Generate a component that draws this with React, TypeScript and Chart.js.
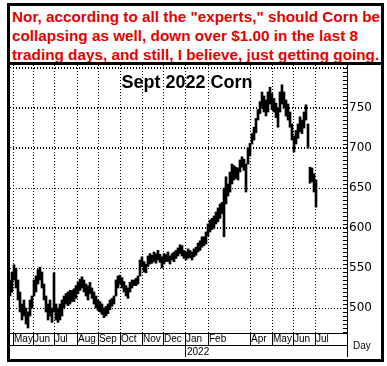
import React, { useEffect, useRef } from 'react';
import { Chart, registerables } from 'chart.js';

Chart.register(...registerables);

// ---- Data (cents per bushel), one sample every 2 trading days ----
const dayStep = 2;
const lows = [
  515, 520, 535, 525, 510, 495, 485, 490, 480, 475, 490, 500, 515, 520, 530, 535, 525, 510, 495, 485,
  490, 482, 495, 485, 482, 485, 490, 500, 505, 503, 505, 508, 508, 512, 518, 522, 525, 520, 515, 510,
  518, 512, 505, 500, 497, 495, 492, 488, 490, 493, 498, 502, 505, 515, 525, 530, 525, 520, 515, 512,
  520, 525, 528, 528, 530, 540, 552, 545, 544, 552, 555, 556, 558, 556, 560, 557, 550, 555, 558, 558,
  555, 560, 558, 562, 565, 568, 565, 562, 560, 562, 563, 560, 564, 566, 570, 572, 576, 578, 580, 590,
  595, 598, 600, 605, 608, 612, 618, 589, 630, 640, 645, 655, 660, 662, 660, 670, 676, 672, 645, 680,
  690, 705, 710, 719, 735, 743, 750, 745, 740, 745, 755, 748, 745, 738, 726, 745, 755, 750, 740, 735,
  726, 710, 695, 705, 712, 720, 718, 725, 735, 700, 656, 658, 645, 626,
];
const highs = [
  535, 545, 554, 550, 535, 520, 505, 510, 500, 495, 510, 515, 535, 540, 548, 551, 545, 530, 515, 505,
  510, 500, 544, 505, 500, 505, 510, 515, 518, 520, 522, 522, 524, 528, 532, 536, 539, 535, 530, 528,
  532, 525, 520, 515, 510, 508, 505, 500, 502, 505, 510, 512, 515, 535, 540, 541, 538, 533, 528, 525,
  532, 535, 535, 537, 540, 560, 564, 558, 555, 565, 568, 566, 570, 568, 572, 567, 564, 568, 567, 570,
  565, 568, 570, 572, 575, 579, 578, 572, 570, 574, 572, 570, 574, 576, 581, 584, 589, 589, 595, 605,
  610, 612, 615, 620, 625, 630, 632, 650, 664, 655, 670, 680, 678, 676, 675, 685, 689, 686, 680, 700,
  706, 718, 726, 737, 748, 758, 770, 765, 760, 770, 776, 768, 762, 756, 750, 770, 779, 770, 760, 755,
  745, 730, 715, 722, 730, 739, 735, 745, 754, 730, 676, 675, 668, 660,
];

// month boundaries (trading-day index) and their labels
const monthStartDays = [3, 23, 44, 67, 88, 110, 132, 153, 175, 198, 240, 262, 283, 305];
const monthLabels = ['May', 'Jun', 'Jul', 'Aug', 'Sep', 'Oct', 'Nov', 'Dec', 'Jan', 'Feb', 'Apr', 'May', 'Jun', 'Jul'];
const yearStartDay = 175;
const yearLabel = '2022';
const totalDays = 337;

const priceMin = 468.75;
const priceMax = 803.75;
const priceLabels = [500, 550, 600, 650, 700, 750];
const gridPrices = [500, 550, 600, 650, 700, 750, 800];
const minorTickStep = 5;

const headline = [
  'Nor, according to all the "experts," should Corn be',
  'collapsing as well, down over $1.00 in the last 8',
  'trading days, and still, I believe, just getting going.',
];
const chartTitle = 'Sept 2022 Corn';
const axisUnit = 'Day';

export default function App() {
  const ref = useRef<HTMLCanvasElement>(null);

  useEffect(() => {
    document.body.style.margin = '0';
    const canvas = ref.current;
    if (!canvas) return;

    const points = lows.map((lo, i) => ({ x: i * dayStep, y: [lo, highs[i]] }));

    const yTicks: number[] = [];
    for (let v = 470; v <= 800; v += minorTickStep) yTicks.push(v);

    const gridLayer = {
      id: 'gridLayer',
      beforeDatasetsDraw(chart: any) {
        const { ctx, chartArea, scales } = chart;
        const xs = scales.x;
        const ys = scales.y;
        const left = Math.round(chartArea.left);
        const right = Math.round(chartArea.right);
        const top = Math.round(chartArea.top);
        const bottom = Math.round(chartArea.bottom);
        ctx.save();
        ctx.fillStyle = '#000';
        gridPrices.forEach((p) => {
          const y = Math.round(ys.getPixelForValue(p));
          if (y < top || y > bottom) return;
          for (let x = left + 3; x < right - 1; x += 3) ctx.fillRect(x, y, 1, 1);
        });
        monthStartDays.forEach((d) => {
          const x = Math.round(xs.getPixelForValue(d));
          for (let y = top + 3; y < bottom - 1; y += 3) ctx.fillRect(x, y, 1, 1);
        });
        ctx.restore();
      },
    };

    const overlay = {
      id: 'overlay',
      afterDraw(chart: any) {
        const { ctx, chartArea, scales } = chart;
        const xs = scales.x;
        const ys = scales.y;
        const right = Math.round(chartArea.right);
        const bottom = Math.round(chartArea.bottom);
        ctx.save();
        ctx.fillStyle = '#000';

        // minor ticks on the inside of the price axis
        yTicks.forEach((p) => {
          const y = Math.round(ys.getPixelForValue(p));
          ctx.fillRect(right - 4, y, 4, 1);
        });

        const rowY = bottom + 12;
        ctx.fillRect(0, rowY, right, 1);
        ctx.fillRect(right, bottom, 1, chart.height - bottom - 1);
        const jx = Math.round(xs.getPixelForValue(yearStartDay));
        ctx.fillRect(jx, bottom, 1, chart.height - bottom - 1);

        ctx.textAlign = 'left';
        ctx.textBaseline = 'middle';
        ctx.font = '10px "Liberation Sans"';
        ctx.fillText(yearLabel, jx + 2, rowY + 7);
        ctx.fillText(axisUnit, right + 6, rowY + 1.5);

        ctx.font = 'bold 18px "Liberation Sans"';
        ctx.textAlign = 'center';
        ctx.textBaseline = 'alphabetic';
        ctx.fillText(chartTitle, Math.round(chartArea.left) + 177, 23);
        ctx.restore();
      },
    };

    const chart = new Chart(canvas, {
      type: 'bar',
      data: {
        datasets: [
          {
            data: points as any,
            backgroundColor: '#000',
            borderWidth: 0,
            barThickness: 2,
          },
        ],
      },
      options: {
        animation: false,
        responsive: false,
        maintainAspectRatio: false,
        layout: { padding: 0 },
        plugins: {
          legend: { display: false },
          tooltip: { enabled: false },
          title: { display: false },
        },
        scales: {
          x: {
            type: 'linear',
            position: 'bottom',
            min: 0,
            max: totalDays,
            offset: false,
            afterBuildTicks: (s: any) => {
              s.ticks = monthStartDays.map((v) => ({ value: v }));
            },
            afterFit: (s: any) => {
              s.height = 25;
              s.paddingLeft = 0;
              s.paddingRight = 0;
            },
            grid: {
              offset: false,
              color: '#000',
              lineWidth: 1,
              drawOnChartArea: true,
              drawTicks: true,
              tickLength: 12,
              tickColor: '#000',
              tickWidth: 1,
              tickBorderDash: [],
            },
            border: { display: true, color: '#000', width: 1, dash: [1, 2] },
            ticks: {
              autoSkip: false,
              maxTicksLimit: 1000,
              maxRotation: 0,
              minRotation: 0,
              align: 'start',
              labelOffset: 1,
              padding: -12,
              color: '#000',
              font: { family: 'Liberation Sans', size: 10 },
              callback: (_v: any, i: number) => monthLabels[i],
            },
          },
          y: {
            type: 'linear',
            position: 'right',
            min: priceMin,
            max: priceMax,
            afterBuildTicks: (s: any) => {
              s.ticks = yTicks.map((v) => ({ value: v }));
            },
            afterFit: (s: any) => {
              s.width = 34;
              s.paddingTop = 0;
              s.paddingBottom = 0;
            },
            grid: {
              display: true,
              drawOnChartArea: true,
              drawTicks: false,
              lineWidth: 1,
              color: (c: any) => (c.tick && gridPrices.includes(c.tick.value) ? '#000' : 'rgba(0,0,0,0)'),
            },
            border: { display: true, color: '#000', width: 1, dash: [1, 2] },
            ticks: {
              autoSkip: false,
              maxTicksLimit: 1000,
              padding: 2,
              color: '#000',
              font: { family: 'DejaVu Sans', size: 12 },
              callback: (v: any) => (priceLabels.includes(Number(v)) ? String(v) : ''),
            },
          },
        },
      } as any,
      plugins: [gridLayer, overlay],
    });

    return () => chart.destroy();
  }, []);

  return (
    <div style={{ position: 'absolute', left: 0, top: 0, width: 387, height: 366, background: '#fff', overflow: 'hidden' }}>
      <div
        style={{
          position: 'absolute',
          left: 7,
          top: 3,
          width: 377,
          height: 359,
          boxSizing: 'border-box',
          border: '3px solid #000',
        }}
      />
      <div
        style={{
          position: 'absolute',
          left: 12,
          top: 7,
          fontFamily: '"Liberation Sans", Arial, sans-serif',
          fontWeight: 'bold',
          fontSize: 15.3,
          lineHeight: '19px',
          color: '#e80000',
          whiteSpace: 'nowrap',
        }}
      >
        {headline.map((l, i) => (
          <div key={i}>{l}</div>
        ))}
      </div>
      <div style={{ position: 'absolute', left: 10, top: 62, width: 371, height: 3, background: '#000' }} />
      <canvas
        ref={ref}
        width={371}
        height={293}
        style={{ position: 'absolute', left: 10, top: 65, width: 371, height: 293 }}
      />
    </div>
  );
}
